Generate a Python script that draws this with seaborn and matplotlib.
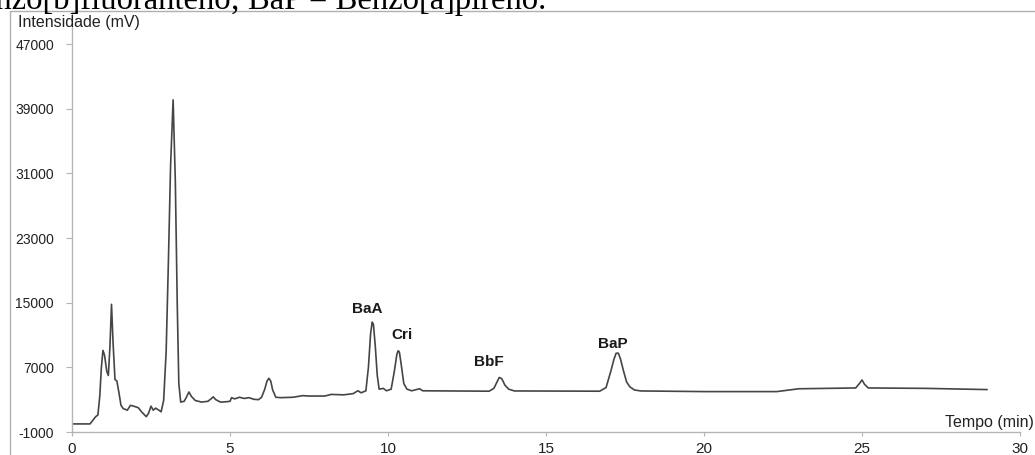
import matplotlib
matplotlib.use("Agg")
import matplotlib.pyplot as plt
import seaborn as sns
import pandas as pd
from matplotlib.lines import Line2D

# ---- data ----
tempo = [0.0, 0.57, 0.65, 0.75, 0.82, 0.88, 0.93, 0.98, 1.03, 1.10, 1.15, 1.20, 1.25, 1.30,
         1.36, 1.42, 1.48, 1.55, 1.62, 1.75, 1.85, 1.95, 2.10, 2.20, 2.35, 2.42, 2.50,
         2.57, 2.65, 2.75, 2.82, 2.90, 2.98, 3.05, 3.12, 3.20, 3.27, 3.33, 3.38, 3.44,
         3.55, 3.62, 3.70, 3.78, 3.90, 4.10, 4.30, 4.40, 4.47, 4.55, 4.70, 4.90, 5.00,
         5.05, 5.15, 5.30, 5.45, 5.60, 5.75, 5.90, 6.00, 6.10, 6.17, 6.23, 6.29, 6.35, 6.45,
         6.60, 7.00, 7.30, 7.50, 8.00, 8.20, 8.60, 8.90, 9.00, 9.05, 9.15, 9.30, 9.38,
         9.45, 9.50, 9.54, 9.60, 9.66, 9.72, 9.85, 9.95, 10.10, 10.20, 10.28, 10.32, 10.36,
         10.42, 10.50, 10.60, 10.75, 10.90, 11.00, 11.10, 13.20, 13.35, 13.45, 13.52, 13.60,
         13.70, 13.82, 14.00, 16.70, 16.90, 17.05, 17.15, 17.22, 17.29, 17.36, 17.45,
         17.55, 17.65, 17.80, 18.00, 20.00, 22.30, 23.00, 24.80, 24.92, 25.00, 25.08, 25.20,
         27.00, 28.96]
intensidade = [0, 0, 400, 900, 1100, 3500, 7000, 9100, 8500, 6500, 6000, 9500, 14800, 10000,
               5500, 5300, 4000, 2300, 1900, 1700, 2300, 2200, 2000, 1500, 900, 1300, 2200,
               1700, 1950, 1700, 1500, 2900, 9000, 20000, 32000, 40100, 30000, 15000, 5000, 2700,
               2800, 3300, 3950, 3400, 2900, 2700, 2800, 3100, 3350, 3000, 2700, 2750, 2800,
               3250, 3100, 3300, 3150, 3250, 3050, 3000, 3300, 4300, 5300, 5650, 5300, 4200, 3300,
               3250, 3300, 3500, 3450, 3450, 3650, 3600, 3750, 4000, 4100, 3850, 4100, 7000,
               11200, 12600, 12300, 9500, 6000, 4300, 4400, 4100, 4300, 6500, 8600, 9050, 8900,
               7300, 5000, 4300, 4100, 4250, 4350, 4100, 4050, 4400, 5200, 5750, 5600,
               4800, 4300, 4080, 4050, 4500, 6500, 8000, 8750, 8750, 8000, 6600,
               5200, 4600, 4200, 4080, 4000, 4000, 4350, 4450, 5000, 5440, 4900, 4450,
               4400, 4250]

picos = ["BaA", "Cri", "BbF", "BaP"]
picos_tempo = [9.33, 10.44, 13.2, 17.1]
picos_int = [13300, 10100, 6800, 9000]

y_ticks = [-1000, 7000, 15000, 23000, 31000, 39000, 47000]
x_ticks = [0, 5, 10, 15, 20, 25, 30]

titulo_cortado = "Benzo[b]fluoranteno; BaP = Benzo[a]pireno."

# ---- styling ----
sns.set_style("white")
plt.rcParams["font.family"] = ["Liberation Sans", "DejaVu Sans"]

W, H = 1035, 455
fig = plt.figure(figsize=(W / 100, H / 100), dpi=100)
ax_l, ax_r, ax_t, ax_b = 72, 1020, 11, 432
ax = fig.add_axes([ax_l / W, 1 - ax_b / H, (ax_r - ax_l) / W, (ax_b - ax_t) / H])

df = pd.DataFrame({"Tempo": tempo, "Intensidade": intensidade})
sns.lineplot(data=df, x="Tempo", y="Intensidade", ax=ax, color="#454545",
             linewidth=1.2, estimator=None, sort=False)

ax.set_xlim(0, 30)
ax.set_ylim(-1000, 51100)
ax.set_xticks(x_ticks)
ax.set_yticks(y_ticks)
ax.set_xticklabels([str(v) for v in x_ticks])
ax.set_yticklabels([str(v) for v in y_ticks])
ax.set_xlabel("")
ax.set_ylabel("")

for s in ["top", "right"]:
    ax.spines[s].set_visible(False)
for s in ["left", "bottom"]:
    ax.spines[s].set_color("#b5b5b5")
    ax.spines[s].set_linewidth(1.0)

ax.tick_params(axis="y", direction="out", length=4, width=0.8, color="#b5b5b5",
               pad=9, labelsize=10, labelcolor="#222222")
ax.tick_params(axis="x", direction="out", length=3, width=0.8, color="#b5b5b5",
               pad=4, labelsize=11, labelcolor="#222222")
ax.tick_params(left=True, bottom=True)

for nome, t, v in zip(picos, picos_tempo, picos_int):
    ax.text(t, v, nome, fontsize=11, fontweight="bold", color="#1a1a1a",
            ha="center", va="bottom")

# axis titles
fig.text(18 / W, 1 - 22 / H, "Intensidade (mV)", fontsize=11.5, color="#222222",
         ha="left", va="center")
fig.text(1034 / W, 1 - 422 / H, "Tempo (min)", fontsize=11.5, color="#222222",
         ha="right", va="center")

# outer image border (left & top)
fig.add_artist(Line2D([10 / W, 10 / W], [0, 1 - 11 / H], transform=fig.transFigure,
                      color="#b0b0b0", linewidth=1.0))
fig.add_artist(Line2D([10 / W, 1], [1 - 11 / H, 1 - 11 / H], transform=fig.transFigure,
                      color="#b0b0b0", linewidth=1.0))

# cropped caption text at the very top (cut by the image edge, as in the reference)
fig.text(546 / W, 1 - 8.5 / H, titulo_cortado, fontsize=23.5, color="black",
         family=["Liberation Serif", "DejaVu Serif"], ha="right", va="baseline")

fig.savefig("out.png", dpi=100, facecolor="white")
